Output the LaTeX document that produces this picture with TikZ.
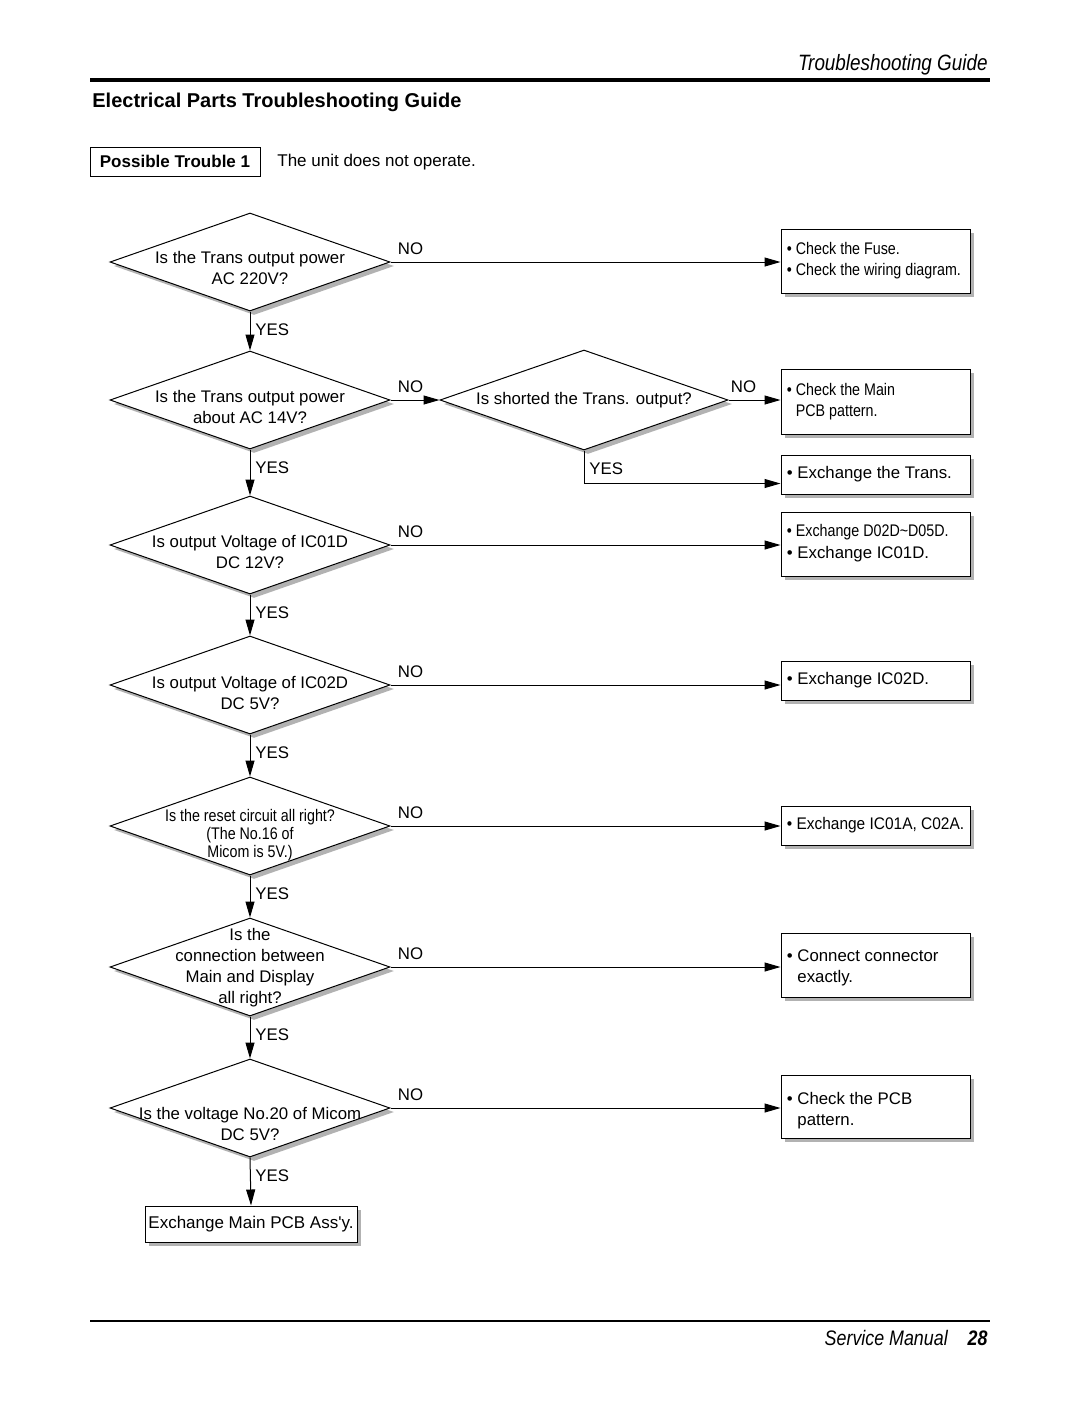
\documentclass[tikz,border=0pt]{standalone}
\usepackage{fontspec}
\setmainfont{Liberation Sans}
\newfontfamily\nar[FakeStretch=0.85]{Liberation Sans}
\newfontfamily\hdr[FakeStretch=0.85]{Liberation Sans}
\usetikzlibrary{shapes.geometric,shadows,arrows.meta}
\tikzset{
  base/.style={font=\fontsize{8.4}{10.5}\selectfont, inner sep=0pt},
  shd/.style={general shadow={fill=black!30, shadow xshift=2pt, shadow yshift=-2pt}},
  dia/.style={diamond, draw, fill=white, line width=0.5pt, minimum width=140pt,
    minimum height=49pt, inner sep=0pt, shd},
  res/.style={rectangle, draw, fill=white, line width=0.5pt, minimum width=94.5pt,
    inner sep=0pt, shd},
  restxt/.style={anchor=west, inner sep=0pt, align=left,
    font=\fontsize{8.4}{10.75}\selectfont},
  arr/.style={line width=0.5pt, -{Triangle[length=8pt,width=4.5pt]}},
  lbl/.style={base, anchor=base west},
  qtxt/.style={base, align=center},
}
\newcommand{\bul}{\textbullet\ }
\newcommand{\ind}{\phantom{\textbullet\ }}
\begin{document}
\begin{tikzpicture}[x=0.5pt,y=-0.5pt]
\useasboundingbox (0,0) rectangle (1080,1405);
\fill[white] (0,0) rectangle (1080,1405);

% header
\node[base, anchor=base east, font={\hdr\fontsize{11.1}{13}\selectfont\itshape}] (hd) at (988,70) {Troubleshooting Guide};
\draw[line width=2pt] (90,80) -- (990,80);
\node[base, anchor=base west, font={\fontsize{10}{12}\selectfont\bfseries}] (title) at (92,107) {Electrical Parts Troubleshooting Guide};
\node[base, draw, line width=0.5pt, minimum width=85pt, minimum height=14.5pt, font={\fontsize{8.5}{10}\selectfont\bfseries}] (pt) at (175,161.5) {Possible Trouble 1};
\node[base, anchor=base west, font={\fontsize{8.5}{10}\selectfont}] (ptt) at (277,166) {The unit does not operate.};

% diamonds
\node[dia] (d1) at (250,262) {};
\node[dia] (d2) at (250,400) {};
\node[dia] (d3) at (250,545) {};
\node[dia] (d4) at (250,685) {};
\node[dia] (d5) at (250,826) {};
\node[dia] (d6) at (250,967) {};
\node[dia] (d7) at (250,1108) {};
\node[dia, minimum width=144pt, minimum height=50pt] (m) at (584,400) {};

\node[qtxt] (t1) at (250,268) {Is the Trans output power\\AC 220V?};
\node[qtxt] (t2) at (250,407) {Is the Trans output power\\about AC 14V?};
\node[qtxt] (t3) at (250,552) {Is output Voltage of IC01D\\DC 12V?};
\node[qtxt] (t4) at (250,693) {Is output Voltage of IC02D\\DC 5V?};
\node[qtxt, font={\nar\fontsize{8.4}{9}\selectfont}] (t5) at (250,835) {Is the reset circuit all right?\\(The No.16 of\\Micom is 5V.)};
\node[qtxt] (t6) at (250,968) {Is the\\connection between\\Main and Display\\all right?};
\node[qtxt] (t7) at (250,1124) {Is the voltage No.20 of Micom\\DC 5V?};
\node[qtxt] (tm) at (584,400) {Is shorted the Trans. output?};

% result boxes
\node[res, minimum height=32pt] (b1) at (875.5,261) {};
\node[res, minimum height=32.5pt] (b2) at (875.5,401.5) {};
\node[res, minimum height=19.5pt] (b3) at (875.5,474.5) {};
\node[res, minimum height=32pt] (b4) at (875.5,544) {};
\node[res, minimum height=19.5pt] (b5) at (875.5,680.5) {};
\node[res, minimum height=19.5pt] (b6) at (875.5,825.5) {};
\node[res, minimum height=32pt] (b7) at (875.5,965) {};
\node[res, minimum height=31.5pt] (b8) at (875.5,1106.5) {};

\node[restxt, font={\nar\fontsize{8.4}{10.5}\selectfont}] (b1t) at ([xshift=3pt]b1.west) {\bul Check the Fuse.\\\bul Check the wiring diagram.};
\node[restxt, font={\nar\fontsize{8.4}{10.5}\selectfont}] (b2t) at ([xshift=3pt]b2.west) {\bul Check the Main\\\ind PCB pattern.};
\node[restxt] (b3t) at ([xshift=3pt]b3.west) {\bul Exchange the Trans.};
\node[restxt] (b4t) at ([xshift=3pt,yshift=0.5pt]b4.west) {{\nar\bul Exchange D02D\textasciitilde D05D.}\\\bul Exchange IC01D.};
\node[restxt] (b5t) at ([xshift=3pt]b5.west) {\bul Exchange IC02D.};
\node[restxt, font={\fontsize{8.4}{10.5}\addfontfeatures{FakeStretch=0.92}\selectfont}] (b6t) at ([xshift=3pt]b6.west) {\bul Exchange IC01A, C02A.};
\node[restxt] (b7t) at ([xshift=3pt,yshift=-1.5pt]b7.west) {\bul Connect connector\\\ind exactly.};
\node[restxt] (b8t) at ([xshift=3pt,yshift=-2pt]b8.west) {\bul Check the PCB\\\ind pattern.};
\node[base, draw, fill=white, line width=0.5pt, minimum width=106pt, minimum height=18pt, shd, font={\fontsize{8.5}{10}\selectfont}] (fin) at (251,1224) {Exchange Main PCB Ass\textquotesingle y.};

% YES connectors
\draw[arr] (d1.south) -- (d2.north);
\draw[arr] (d2.south) -- (d3.north);
\draw[arr] (d3.south) -- (d4.north);
\draw[arr] (d4.south) -- (d5.north);
\draw[arr] (d5.south) -- (d6.north);
\draw[arr] (d6.south) -- (d7.north);
\draw[arr] (d7.south) -- (fin.north);
\draw[arr] (m.south) |- ([yshift=-4.5pt]b3.west);

\foreach \d in {d1,d2,d3,d4,d5,d6,d7,m}
  \node[lbl] at ([xshift=2.5pt,yshift=-12pt]\d.south) {YES};

% NO connectors
\draw[arr] (d1.east) -- (d1.east -| b1.west);
\draw[arr] (d2.east) -- (m.west);
\draw[arr] (m.east) -- (m.east -| b2.west);
\draw[arr] (d3.east) -- (d3.east -| b4.west);
\draw[arr] (d4.east) -- (d4.east -| b5.west);
\draw[arr] (d5.east) -- (d5.east -| b6.west);
\draw[arr] (d6.east) -- (d6.east -| b7.west);
\draw[arr] (d7.east) -- (d7.east -| b8.west);

\foreach \d in {d1,d2,d3,d4,d5,d6,d7}
  \node[lbl] at ([xshift=3.5pt,yshift=4pt]\d.east) {NO};
\node[lbl] at ([xshift=1pt,yshift=4pt]m.east) {NO};

% footer
\draw[line width=1.2pt] (90,1321) -- (990,1321);
\node[base, anchor=base east, font={\hdr\fontsize{10.5}{12}\selectfont\itshape}] (ft) at (988,1345) {Service Manual\hspace{10pt}\textbf{28}};
\end{tikzpicture}
\end{document}
